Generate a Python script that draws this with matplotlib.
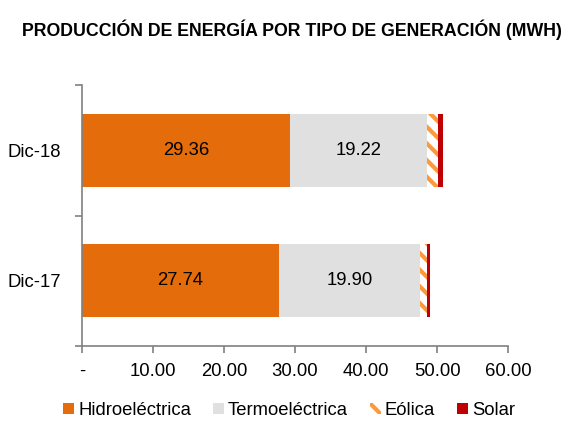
import numpy as np
import matplotlib.pyplot as plt
import matplotlib as mpl

# --- datos ---
periodos = ['Dic-17', 'Dic-18']
hidro = [27.74, 29.36]
termo = [19.90, 19.22]
eolica = [1.0, 1.5]
solar = [0.35, 0.75]
xticks = [0, 10, 20, 30, 40, 50, 60]
xtick_labels = ['-', '10.00', '20.00', '30.00', '40.00', '50.00', '60.00']

plt.rcParams['font.family'] = ['Liberation Sans', 'DejaVu Sans']
mpl.rcParams['hatch.linewidth'] = 3.0
mpl.rcParams['hatch.color'] = '#FA9A3C'

c_hidro = '#E46C0A'
c_termo = '#E0E0E0'
c_eol = '#FA9A3C'
c_solar = '#C00000'
fs = 13.3

fig = plt.figure(figsize=(5.67, 4.21), dpi=100)
ax = fig.add_axes([0.1446, 0.178, 0.7514, 0.62])

y = np.arange(len(periodos))
h = 0.56
left = np.zeros(len(periodos))

ax.barh(y, hidro, height=h, left=left, color=c_hidro, label='Hidroeléctrica')
left += hidro
ax.barh(y, termo, height=h, left=left, color=c_termo, label='Termoeléctrica')
left += termo
ax.barh(y, eolica, height=h, left=left, color='white', edgecolor=c_eol,
        hatch='\\\\', linewidth=0, label='Eólica')
left += eolica
ax.barh(y, solar, height=h, left=left, color=c_solar, label='Solar')

for i in range(len(periodos)):
    ax.text(hidro[i] / 2, y[i], f'{hidro[i]:.2f}', ha='center', va='center', fontsize=fs)
    ax.text(hidro[i] + termo[i] / 2, y[i], f'{termo[i]:.2f}', ha='center', va='center', fontsize=fs)

ax.set_xlim(0, 60)
ax.set_ylim(-0.5, 1.5)
ax.set_xticks(xticks)
ax.set_xticklabels(xtick_labels, fontsize=fs)
ax.set_yticks(y)
ax.set_yticklabels(periodos, fontsize=fs)
ax.set_yticks([-0.5, 0.5, 1.5], minor=True)
ax.tick_params(axis='y', which='major', length=0, pad=15)
ax.tick_params(axis='y', which='minor', length=5, color='#808080', width=1.2)
ax.tick_params(axis='x', length=5, color='#808080', width=1.2, pad=7)

for s in ['top', 'right']:
    ax.spines[s].set_visible(False)
for s in ['left', 'bottom']:
    ax.spines[s].set_color('#808080')
    ax.spines[s].set_linewidth(1.2)

fig.text(0.515, 0.93, 'PRODUCCIÓN DE ENERGÍA POR TIPO DE GENERACIÓN (MWH)',
         ha='center', va='center', fontsize=12.8, fontweight='bold')

fig.legend(loc='lower center', bbox_to_anchor=(0.51, -0.035), ncol=4, frameon=False,
           fontsize=fs, handlelength=0.6, handleheight=0.6, handletextpad=0.2,
           columnspacing=1.2)

fig.savefig('out.png', dpi=100)
